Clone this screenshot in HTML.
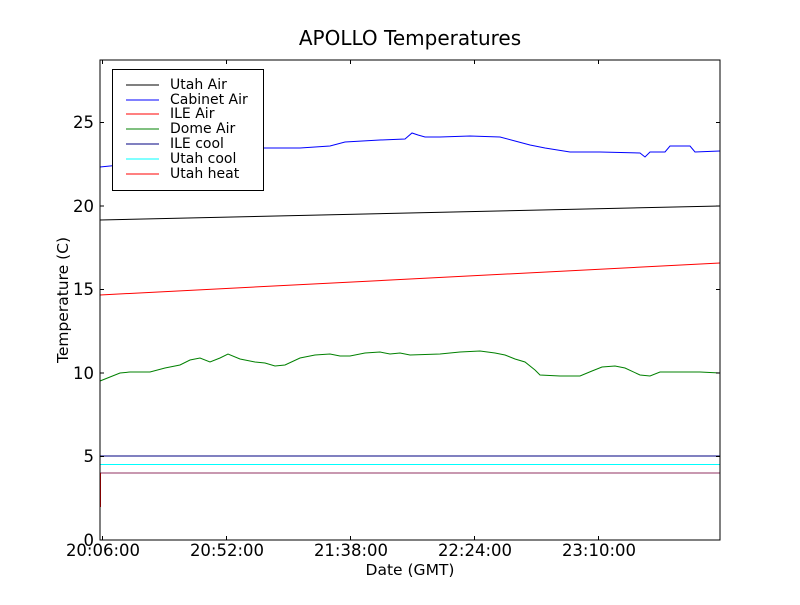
<!DOCTYPE html>
<html><head><style>body{margin:0;background:#fff}</style></head><body>
<svg width="800" height="600" xmlns="http://www.w3.org/2000/svg" font-family="DejaVu Sans, Liberation Sans, sans-serif">
<rect width="800" height="600" fill="#fff"/>
<text x="410" y="45" font-size="20" text-anchor="middle">APOLLO Temperatures</text>
<g fill="none" stroke-width="1">
<polyline stroke="#000" points="100,220 720,206"/>
<polyline stroke="#f00" points="100,295 720,263"/>
<polyline stroke="#00f" points="100,167 120,165 150,160 180,152 200,148 230,148 270,148 300,148 330,146 345,142 380,140 405,139 412,133 418,135 425,137 440,137 470,136 500,137 515,141 530,145 545,148 570,152 600,152 640,153 645,157 650,152 665,152 670,146 690,146 695,152 720,151"/>
<polyline stroke="#008000" points="100,381 110,377 120,373 130,372 150,372 165,368 180,365 190,360 200,358 210,362 220,358 228,354 240,359 255,362 265,363 275,366 285,365 300,358 315,355 330,354 340,356 350,356 365,353 380,352 390,354 400,353 410,355 440,354 460,352 480,351 495,353 505,355 515,359 525,362 535,370 540,375 560,376 580,376 592,371 602,367 615,366 625,368 640,375 650,376 660,372 680,372 700,372 720,373"/>
<line x1="100" y1="456" x2="720" y2="456" stroke="#000080"/>
<line x1="100" y1="464.5" x2="720" y2="464.5" stroke="#0ff"/>
<line x1="100" y1="473" x2="720" y2="473" stroke="#903060"/>
<line x1="100.5" y1="473" x2="100.5" y2="507" stroke="#f00"/>
</g>
<rect x="100" y="60" width="620" height="480" fill="none" stroke="#000"/>
<g stroke="#000">
<line x1="100" y1="540" x2="104" y2="540"/><line x1="716" y1="540" x2="720" y2="540"/>
<line x1="100" y1="456.5" x2="104" y2="456.5"/><line x1="716" y1="456.5" x2="720" y2="456.5"/>
<line x1="100" y1="373" x2="104" y2="373"/><line x1="716" y1="373" x2="720" y2="373"/>
<line x1="100" y1="289.5" x2="104" y2="289.5"/><line x1="716" y1="289.5" x2="720" y2="289.5"/>
<line x1="100" y1="206" x2="104" y2="206"/><line x1="716" y1="206" x2="720" y2="206"/>
<line x1="100" y1="122.5" x2="104" y2="122.5"/><line x1="716" y1="122.5" x2="720" y2="122.5"/>
<line x1="102.5" y1="540" x2="102.5" y2="536"/><line x1="102.5" y1="60" x2="102.5" y2="64"/>
<line x1="226.5" y1="540" x2="226.5" y2="536"/><line x1="226.5" y1="60" x2="226.5" y2="64"/>
<line x1="350.5" y1="540" x2="350.5" y2="536"/><line x1="350.5" y1="60" x2="350.5" y2="64"/>
<line x1="474.5" y1="540" x2="474.5" y2="536"/><line x1="474.5" y1="60" x2="474.5" y2="64"/>
<line x1="598.5" y1="540" x2="598.5" y2="536"/><line x1="598.5" y1="60" x2="598.5" y2="64"/>
</g>
<g font-size="16.5" text-anchor="end">
<text x="94" y="546">0</text><text x="94" y="462">5</text><text x="94" y="379">10</text>
<text x="94" y="295">15</text><text x="94" y="212">20</text><text x="94" y="128">25</text>
</g>
<g font-size="16.5" text-anchor="middle">
<text x="103" y="556">20:06:00</text><text x="227" y="556">20:52:00</text><text x="351" y="556">21:38:00</text>
<text x="475" y="556">22:24:00</text><text x="599" y="556">23:10:00</text>
</g>
<text x="410" y="575" font-size="15.5" text-anchor="middle">Date (GMT)</text>
<text transform="translate(68,300) rotate(-90)" font-size="15.5" text-anchor="middle">Temperature (C)</text>
<rect x="112.5" y="69.5" width="151" height="121" fill="#fff" stroke="#000"/>
<g stroke-width="1">
<line x1="126" y1="85" x2="159" y2="85" stroke="#000"/>
<line x1="126" y1="100" x2="159" y2="100" stroke="#00f"/>
<line x1="126" y1="114" x2="159" y2="114" stroke="#f00"/>
<line x1="126" y1="129" x2="159" y2="129" stroke="#008000"/>
<line x1="126" y1="144" x2="159" y2="144" stroke="#000080"/>
<line x1="126" y1="159" x2="159" y2="159" stroke="#0ff"/>
<line x1="126" y1="174" x2="159" y2="174" stroke="#f00"/>
</g>
<g font-size="14">
<text x="170" y="89">Utah Air</text><text x="170" y="104">Cabinet Air</text><text x="170" y="118">ILE Air</text>
<text x="170" y="133">Dome Air</text><text x="170" y="148">ILE cool</text><text x="170" y="163">Utah cool</text>
<text x="170" y="178">Utah heat</text>
</g>
</svg>
</body></html>
